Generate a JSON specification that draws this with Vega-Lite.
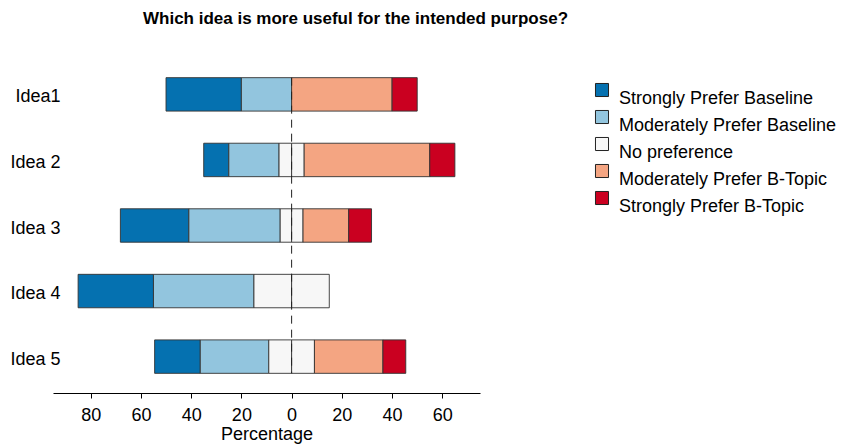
{
  "$schema": "https://vega.github.io/schema/vega-lite/v6.json",
  "autosize": "none",
  "padding": {"left": 53, "top": 58, "right": 371, "bottom": 52},
  "width": 427,
  "height": 335,
  "title": {
    "text": "Which idea is more useful for the intended purpose?",
    "font": "Liberation Sans",
    "fontSize": 17,
    "fontWeight": "bold",
    "color": "black",
    "anchor": "middle",
    "frame": "group",
    "dx": 89,
    "offset": 30,
    "limit": 800
  },
  "config": {
    "view": {"stroke": null},
    "font": "Liberation Sans"
  },
  "layer": [
    {
      "data": {
        "values": [
          {"idea": "Idea1", "response": "Strongly Prefer Baseline", "pct": -30},
          {"idea": "Idea1", "response": "Moderately Prefer Baseline", "pct": -20},
          {"idea": "Idea1", "response": "Moderately Prefer B-Topic", "pct": 40},
          {"idea": "Idea1", "response": "Strongly Prefer B-Topic", "pct": 10},
          {"idea": "Idea 2", "response": "Strongly Prefer Baseline", "pct": -10},
          {"idea": "Idea 2", "response": "Moderately Prefer Baseline", "pct": -20},
          {"idea": "Idea 2", "response": "No preference", "pct": -5},
          {"idea": "Idea 2", "response": "No preference", "pct": 5},
          {"idea": "Idea 2", "response": "Moderately Prefer B-Topic", "pct": 50},
          {"idea": "Idea 2", "response": "Strongly Prefer B-Topic", "pct": 10},
          {"idea": "Idea 3", "response": "Strongly Prefer Baseline", "pct": -27.27},
          {"idea": "Idea 3", "response": "Moderately Prefer Baseline", "pct": -36.36},
          {"idea": "Idea 3", "response": "No preference", "pct": -4.545},
          {"idea": "Idea 3", "response": "No preference", "pct": 4.545},
          {"idea": "Idea 3", "response": "Moderately Prefer B-Topic", "pct": 18.18},
          {"idea": "Idea 3", "response": "Strongly Prefer B-Topic", "pct": 9.09},
          {"idea": "Idea 4", "response": "Strongly Prefer Baseline", "pct": -30},
          {"idea": "Idea 4", "response": "Moderately Prefer Baseline", "pct": -40},
          {"idea": "Idea 4", "response": "No preference", "pct": -15},
          {"idea": "Idea 4", "response": "No preference", "pct": 15},
          {"idea": "Idea 5", "response": "Strongly Prefer Baseline", "pct": -18.18},
          {"idea": "Idea 5", "response": "Moderately Prefer Baseline", "pct": -27.27},
          {"idea": "Idea 5", "response": "No preference", "pct": -9.09},
          {"idea": "Idea 5", "response": "No preference", "pct": 9.09},
          {"idea": "Idea 5", "response": "Moderately Prefer B-Topic", "pct": 27.27},
          {"idea": "Idea 5", "response": "Strongly Prefer B-Topic", "pct": 9.09}
        ]
      },
      "transform": [
        {"calculate": "datum.response == 'No preference' ? 0 : (indexof(datum.response, 'Moderately') == 0 ? 1 : 2)", "as": "rank"}
      ],
      "mark": {"type": "bar", "stroke": "#333333", "strokeWidth": 1, "strokeOpacity": 0.9},
      "encoding": {
        "y": {
          "field": "idea",
          "type": "nominal",
          "sort": null,
          "scale": {"domain": ["Idea1", "Idea 2", "Idea 3", "Idea 4", "Idea 5"], "paddingInner": 0.49, "paddingOuter": 0.3},
          "axis": {
            "title": null,
            "domain": false,
            "ticks": false,
            "labelFontSize": 18,
            "labelColor": "black",
            "labelPadding": -7,
            "labelOffset": 3,
            "labelFont": "Liberation Sans"
          }
        },
        "x": {
          "field": "pct",
          "type": "quantitative",
          "stack": "zero",
          "scale": {"domain": [-95, 75], "nice": false, "zero": false},
          "axis": {
            "title": "Percentage",
            "titleFontSize": 18,
            "titleFontWeight": "normal",
            "titleColor": "black",
            "titlePadding": 1,
            "values": [-80, -60, -40, -20, 0, 20, 40, 60],
            "labelExpr": "abs(datum.value)",
            "labelFontSize": 18,
            "labelColor": "black",
            "labelPadding": 8,
            "tickSize": 5,
            "tickColor": "black",
            "domainColor": "black",
            "grid": false
          }
        },
        "order": {"field": "rank", "type": "quantitative", "sort": "ascending"},
        "color": {
          "field": "response",
          "type": "nominal",
          "scale": {
            "domain": ["Strongly Prefer Baseline", "Moderately Prefer Baseline", "No preference", "Moderately Prefer B-Topic", "Strongly Prefer B-Topic"],
            "range": ["#0571b0", "#92c5de", "#f7f7f7", "#f4a582", "#ca0020"]
          },
          "legend": {
            "title": null,
            "orient": "none",
            "legendX": 540,
            "legendY": 23,
            "padding": 0,
            "symbolType": "square",
            "symbolSize": 170,
            "symbolStrokeColor": "#222222",
            "symbolStrokeWidth": 1,
            "symbolOpacity": 1,
            "labelFontSize": 18,
            "labelColor": "black",
            "labelFont": "Liberation Sans",
            "labelBaseline": "top",
            "labelOffset": 8,
            "labelLimit": 400,
            "rowPadding": -1
          }
        }
      }
    },
    {
      "data": {"values": [{"first": "Idea1", "last": "Idea 5"}]},
      "mark": {"type": "rule", "strokeDash": [8, 6], "color": "#222222", "strokeWidth": 1},
      "encoding": {
        "x": {"datum": 0, "type": "quantitative"},
        "y": {"field": "first", "type": "nominal", "bandPosition": 0},
        "y2": {"field": "last", "bandPosition": 1}
      }
    }
  ]
}
